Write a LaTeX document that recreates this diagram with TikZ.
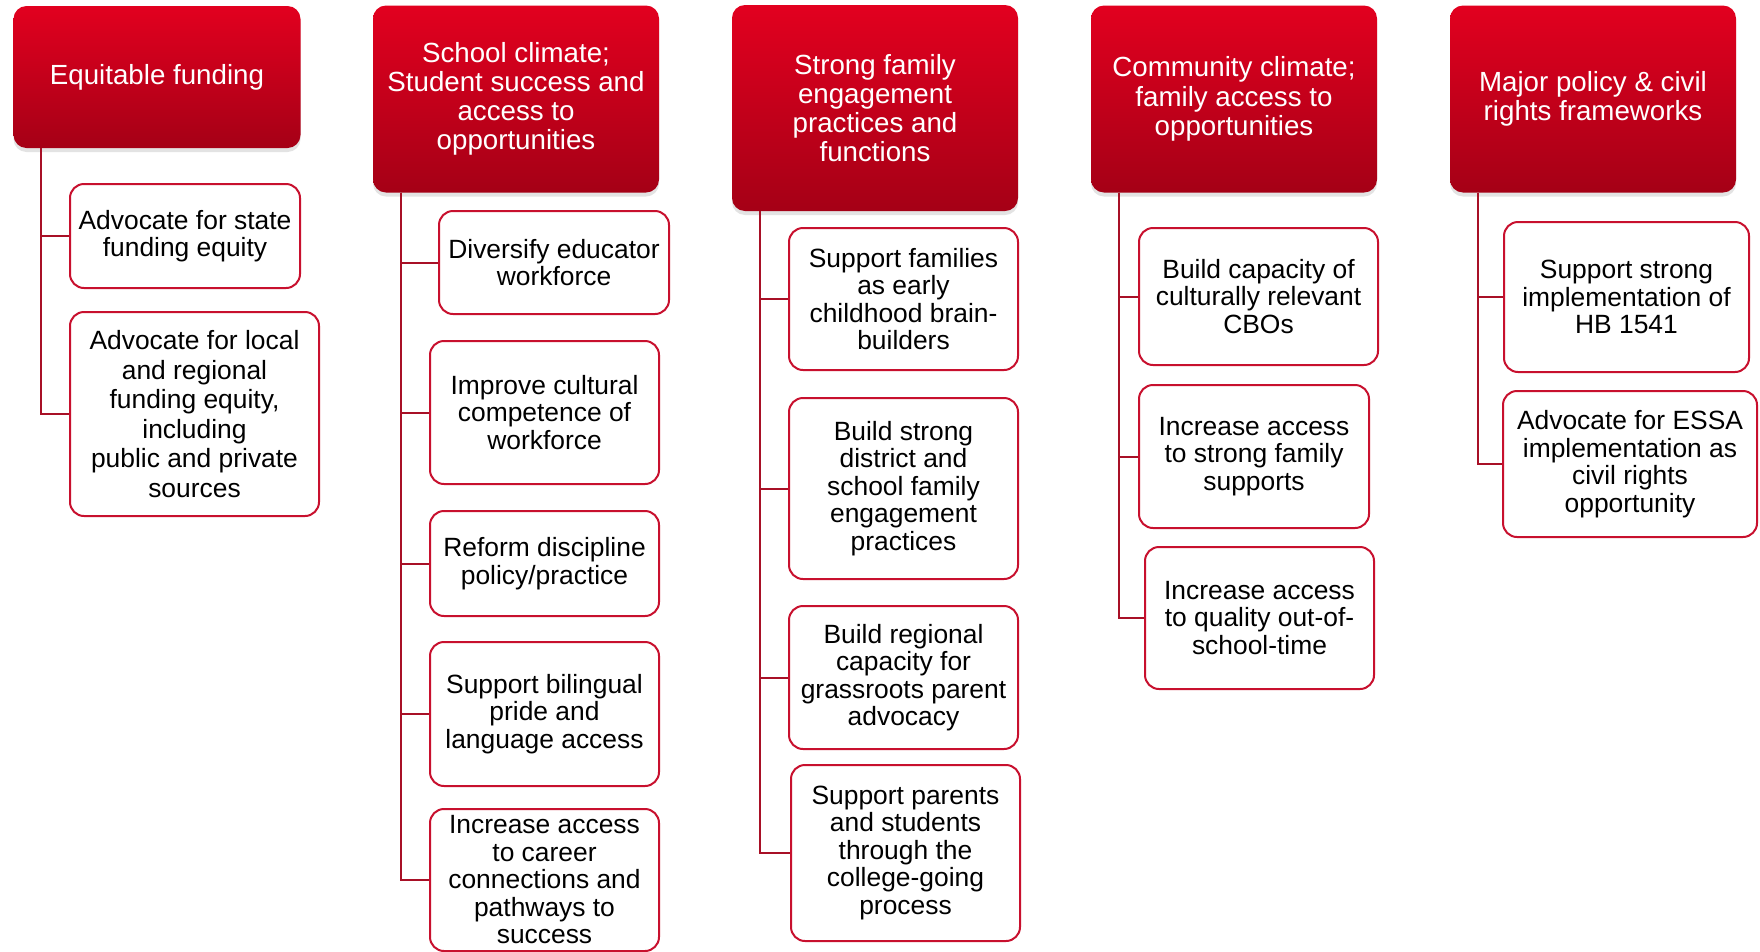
\documentclass[tikz,border=0pt]{standalone}
\usepackage{fontspec}
\setmainfont{Liberation Sans}
\usetikzlibrary{shadows}

\definecolor{hdtop}{RGB}{226,0,31}
\definecolor{hdbot}{RGB}{165,0,22}
\definecolor{subred}{RGB}{200,16,46}
\definecolor{trunkred}{RGB}{168,16,38}

\begin{document}
\begin{tikzpicture}[x=1pt, y=-1pt,
    head/.style={rounded corners=13pt, top color=hdtop, bottom color=hdbot, draw=none,
        text=white, align=center, inner sep=2pt,
        font=\fontsize{27.7}{29.2}\selectfont,
        drop shadow={shadow xshift=0pt, shadow yshift=-4pt, opacity=0.22}},
    sub/.style={draw=subred, line width=2pt, rounded corners=14pt, fill=white,
        align=center, inner sep=2pt, font=\fontsize{26.4}{27.5}\selectfont},
    trunk/.style={draw=trunkred, line width=2pt}]
    \useasboundingbox (0,0) rectangle (1760,951);
    \clip (0,0) rectangle (1760,951);
    \fill[white] (0,0) rectangle (1760,951);

    % column headers
    \node[head, minimum width=287pt, minimum height=142pt] (h1) at (157,77) {Equitable funding};
    \node[head, minimum width=286pt, minimum height=187pt] (h2) at (516,99) {School climate;\\Student success and\\access to\\opportunities};
    \node[head, minimum width=286pt, minimum height=206pt] (h3) at (875,108) {Strong family\\engagement\\practices and\\functions};
    \node[head, minimum width=286pt, minimum height=187pt] (h4) at (1234,99) {Community climate;\\family access to\\opportunities};
    \node[head, minimum width=286pt, minimum height=187pt] (h5) at (1593,99) {Major policy \& civil\\rights frameworks};

    \foreach \h in {1,...,5}
        \coordinate (t\h) at ([xshift=28pt]h\h.south west);

    % equitable funding
    \node[sub, minimum width=230pt, minimum height=104pt] (c11) at (185,236) {Advocate for state\\funding equity};
    \node[sub, minimum width=249pt, minimum height=204pt, font=\fontsize{26.4}{29.5}\selectfont] (c12) at (194.5,414) {Advocate for local\\and regional\\funding equity,\\including\\public and private\\sources};

    % school climate
    \node[sub, minimum width=230pt, minimum height=103pt] (c21) at (554,262.5) {Diversify educator\\workforce};
    \node[sub, minimum width=229pt, minimum height=143pt] (c22) at (544.5,412.5) {Improve cultural\\competence of\\workforce};
    \node[sub, minimum width=229pt, minimum height=105pt] (c23) at (544.5,563.5) {Reform discipline\\policy/practice};
    \node[sub, minimum width=229pt, minimum height=144pt] (c24) at (544.5,714) {Support bilingual\\pride and\\language access};
    \node[sub, minimum width=229pt, minimum height=142pt] (c25) at (544.5,880) {Increase access\\to career\\connections and\\pathways to\\success};

    % family engagement
    \node[sub, minimum width=229pt, minimum height=142pt] (c31) at (903.5,299) {Support families\\as early\\childhood brain-\\builders};
    \node[sub, minimum width=229pt, minimum height=181pt] (c32) at (903.5,488.5) {Build strong\\district and\\school family\\engagement\\practices};
    \node[sub, minimum width=229pt, minimum height=143pt] (c33) at (903.5,677.5) {Build regional\\capacity for\\grassroots parent\\advocacy};
    \node[sub, minimum width=229pt, minimum height=176pt] (c34) at (905.5,853) {Support parents\\and students\\through the\\college-going\\process};

    % community climate
    \node[sub, minimum width=239pt, minimum height=137pt] (c41) at (1258.5,296.5) {Build capacity of\\culturally relevant\\CBOs};
    \node[sub, minimum width=230pt, minimum height=143pt] (c42) at (1254,456.5) {Increase access\\to strong family\\supports};
    \node[sub, minimum width=229pt, minimum height=142pt] (c43) at (1259.5,618) {Increase access\\to quality out-of-\\school-time};

    % policy frameworks
    \node[sub, minimum width=245pt, minimum height=150pt] (c51) at (1626.5,297) {Support strong\\implementation of\\HB 1541};
    \node[sub, minimum width=254pt, minimum height=146pt] (c52) at (1630,464) {Advocate for ESSA\\implementation as\\civil rights\\opportunity};

    % trunk lines
    \foreach \c in {11,12}
        \draw[trunk] (t1) |- (c\c.west);
    \foreach \c in {21,22,23,24,25}
        \draw[trunk] (t2) |- (c\c.west);
    \foreach \c in {31,32,33,34}
        \draw[trunk] (t3) |- (c\c.west);
    \foreach \c in {41,42,43}
        \draw[trunk] (t4) |- (c\c.west);
    \foreach \c in {51,52}
        \draw[trunk] (t5) |- (c\c.west);
\end{tikzpicture}
\end{document}
